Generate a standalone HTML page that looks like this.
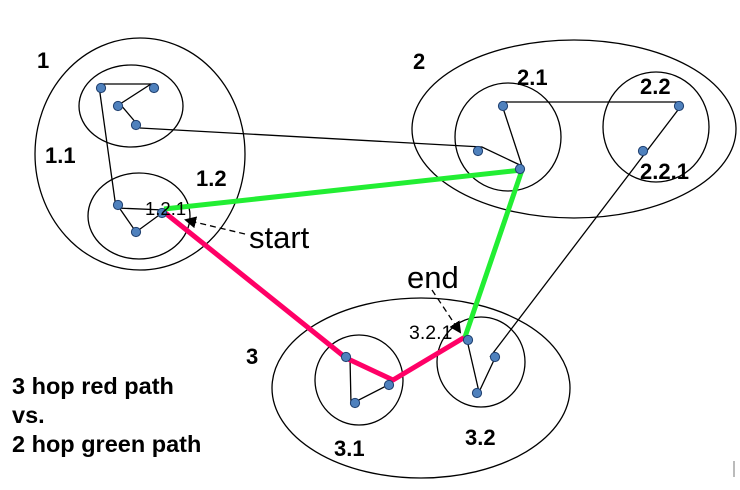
<!DOCTYPE html>
<html><head><meta charset="utf-8"><style>
html,body{margin:0;padding:0;background:#fff;}
svg{display:block;font-family:"Liberation Sans",Arial,sans-serif;}
.b{font-weight:bold;font-size:22px;}
.t{font-weight:bold;font-size:23.5px;}
</style></head><body>
<svg width="740" height="490" viewBox="0 0 740 490">
<defs><marker id="ah" markerWidth="12" markerHeight="12" refX="10" refY="6" orient="auto" markerUnits="userSpaceOnUse"><path d="M0,0 L12,6 L0,12 z" fill="#000"/></marker></defs>
<g fill="none" stroke="#000" stroke-width="1.3">
<ellipse cx="140" cy="154" rx="105" ry="116"/>
<ellipse cx="131" cy="106" rx="52" ry="41"/>
<ellipse cx="139" cy="216" rx="51" ry="43"/>
<ellipse cx="574" cy="129" rx="162" ry="89"/>
<ellipse cx="508" cy="137" rx="53" ry="54"/>
<ellipse cx="656" cy="127" rx="53" ry="55"/>
<ellipse cx="421" cy="388" rx="149" ry="90"/>
<ellipse cx="359" cy="380" rx="44" ry="45"/>
<ellipse cx="481" cy="362" rx="44" ry="45"/>
<path d="M101,84 L151,84 L120,104 L137,124"/>
<path d="M140,128 L482,147 L522,166"/>
<path d="M99,86 L116,208 L164,210"/>
<path d="M118,206 L136,232 L162,213"/>
<path d="M501,102 L681,102"/>
<path d="M503,108 L522,166"/>
<path d="M681,106 L490,357"/>
<path d="M350,358 L351,404 L390,384"/>
<path d="M467,340 L479,392 L495,358"/>
<path d="M245,234 L186,220" stroke-dasharray="6,4" marker-end="url(#ah)"/>
<path d="M432,290 L460,332" stroke-dasharray="6,4" marker-end="url(#ah)"/>
</g>
<polyline points="164,212 346,358 393,380 465,337" fill="none" stroke="#ff0066" stroke-width="5" stroke-linejoin="round"/>
<polyline points="164,209 522,170 465,337" fill="none" stroke="#22ee33" stroke-width="5" stroke-linejoin="round"/>
<g fill="#4f81bd" stroke="#1f3f6f" stroke-width="1">
<circle cx="101" cy="88" r="4.6"/><circle cx="154" cy="88" r="4.6"/><circle cx="118" cy="106" r="4.6"/><circle cx="136" cy="125" r="4.6"/>
<circle cx="118" cy="205" r="4.6"/><circle cx="136" cy="232" r="4.6"/><circle cx="162" cy="213" r="4.6"/>
<circle cx="503" cy="106" r="4.6"/><circle cx="679" cy="106" r="4.6"/><circle cx="478" cy="151" r="4.6"/><circle cx="520" cy="169" r="4.6"/><circle cx="643" cy="151" r="4.6"/>
<circle cx="346" cy="357" r="4.6"/><circle cx="389" cy="385" r="4.6"/><circle cx="355" cy="403" r="4.6"/>
<circle cx="468" cy="340" r="4.6"/><circle cx="495" cy="357" r="4.6"/><circle cx="477" cy="393" r="4.6"/>
</g>
<g fill="#000">
<text x="37" y="68" class="b">1</text>
<text x="45" y="163" class="b">1.1</text>
<text x="196" y="186" class="b">1.2</text>
<text x="413" y="69" class="b">2</text>
<text x="517" y="85" class="b">2.1</text>
<text x="640" y="94" class="b">2.2</text>
<text x="640" y="179" class="b">2.2.1</text>
<text x="246" y="364" class="b">3</text>
<text x="334" y="456" class="b">3.1</text>
<text x="465" y="445" class="b">3.2</text>
<text x="12" y="394" class="t">3 hop red path</text>
<text x="12" y="423" class="t">vs.</text>
<text x="12" y="452" class="t">2 hop green path</text>
</g>
<text x="145" y="215" font-size="18.5">1.2.1</text>
<text x="409" y="339" font-size="19.5">3.2.1</text>
<text x="249" y="248" font-size="31">start</text>
<text x="407" y="288" font-size="31">end</text>
<rect x="733" y="461" width="2" height="16" fill="#bbb"/>
</svg>
</body></html>
